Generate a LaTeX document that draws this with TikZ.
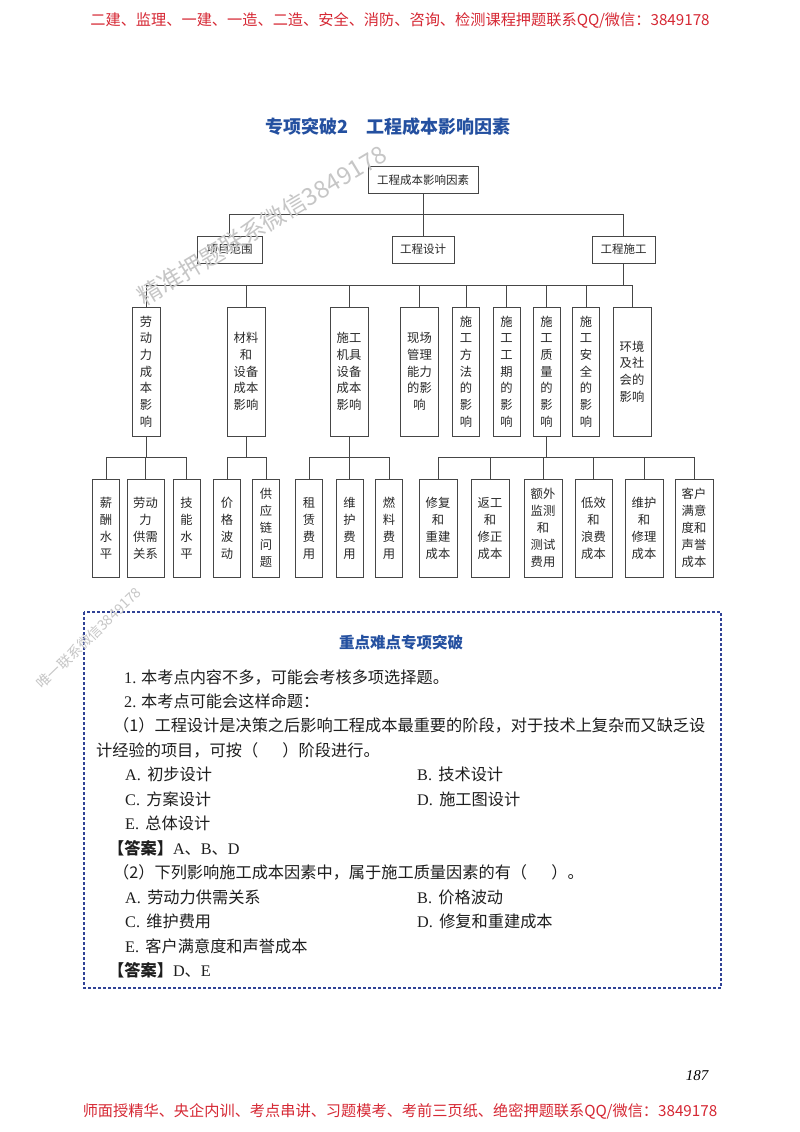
\documentclass[tikz,border=0pt]{standalone}
\usepackage{fontspec}
\setmainfont{Liberation Serif}
\newfontfamily\cjk{Noto Sans CJK SC}
\definecolor{hdred}{RGB}{214,40,52}
\definecolor{ttlblue}{RGB}{36,80,160}
\definecolor{dashblue}{RGB}{48,66,150}
\definecolor{boxline}{RGB}{70,70,70}
\definecolor{boxtext}{RGB}{40,40,40}
\definecolor{bodytext}{RGB}{30,30,30}
\tikzset{
  box/.style={draw=boxline, line width=0.9pt, inner sep=0pt, align=center, text=boxtext},
  lone/.style={box, minimum height=27pt, font=\cjk\fontsize{11.5}{14}\selectfont},
  ltwo/.style={box, minimum height=129pt, font=\cjk\fontsize{12.3}{16.7}\selectfont},
  lthree/.style={box, minimum height=98pt, font=\cjk\fontsize{12.3}{17}\selectfont},
  wa/.style={minimum width=27pt},
  wb/.style={minimum width=38pt},
  conn/.style={draw=boxline, line width=0.9pt},
  bodyline/.style={anchor=west, inner sep=0pt, text=bodytext, font=\cjk\fontsize{16.2}{18}\selectfont},
  redline/.style={inner sep=0pt, text=hdred, font=\cjk\fontsize{15.2}{18}\selectfont},
  wmark/.style={inner sep=0pt, text=gray!45}
}
\begin{document}
\begin{tikzpicture}[x=1pt,y=-1pt]
\useasboundingbox (0,0) rectangle (800,1132);
\fill[white] (0,0) rectangle (800,1132);

% header / footer
\node[redline] (hdr) at (400,20) {二建、监理、一建、一造、二造、安全、消防、咨询、检测课程押题联系QQ/微信：3849178};
\node[redline] (ftr) at (400,1111) {师面授精华、央企内训、考点串讲、习题模考、考前三页纸、绝密押题联系QQ/微信：3849178};
\node[inner sep=0pt, font=\rmfamily\itshape\fontsize{15}{18}\selectfont] (pg) at (697,1076) {187};

% title
\node[inner sep=0pt, text=ttlblue, font=\cjk\bfseries\fontsize{18}{20}\selectfont] (title) at (388,127) {专项突破2\hspace{1em}工程成本影响因素};

% level 0 and 1
\node[lone, minimum width=110pt] (root) at (423,180) {工程成本影响因素};
\node[lone, minimum width=65pt] (p1) at (229.5,249.5) {项目范围};
\node[lone, minimum width=62pt] (p2) at (423,249.5) {工程设计};
\node[lone, minimum width=63pt] (p3) at (623.5,249.5) {工程施工};

% level 2
\node[ltwo, wa, minimum width=28pt] (a1) at (146,371.5) {劳\\动\\力\\成\\本\\影\\响};
\node[ltwo, wb] (a2) at (246,371.5) {材料\\和\\设备\\成本\\影响};
\node[ltwo, wb] (a3) at (349,371.5) {施工\\机具\\设备\\成本\\影响};
\node[ltwo, wb] (a4) at (419.5,371.5) {现场\\管理\\能力\\的影\\响};
\node[ltwo, wa] (a5) at (466,371.5) {施\\工\\方\\法\\的\\影\\响};
\node[ltwo, wa] (a6) at (506.5,371.5) {施\\工\\工\\期\\的\\影\\响};
\node[ltwo, wa] (a7) at (546.5,371.5) {施\\工\\质\\量\\的\\影\\响};
\node[ltwo, wa] (a8) at (586,371.5) {施\\工\\安\\全\\的\\影\\响};
\node[ltwo, wb] (a9) at (632,371.5) {环境\\及社\\会的\\影响};

% level 3
\node[lthree, wa] (b1) at (106,528) {薪\\酬\\水\\平};
\node[lthree, wb, minimum width=37pt] (b2) at (145.5,528) {劳动\\力\\供需\\关系};
\node[lthree, wa] (b3) at (186.5,528) {技\\能\\水\\平};
\node[lthree, wa] (b4) at (227,528) {价\\格\\波\\动};
\node[lthree, wa] (b5) at (266,528) {供\\应\\链\\问\\题};
\node[lthree, wa] (b6) at (309,528) {租\\赁\\费\\用};
\node[lthree, wa] (b7) at (349.5,528) {维\\护\\费\\用};
\node[lthree, wa] (b8) at (389,528) {燃\\料\\费\\用};
\node[lthree, wb] (b9) at (438,528) {修复\\和\\重建\\成本};
\node[lthree, wb] (b10) at (490,528) {返工\\和\\修正\\成本};
\node[lthree, wb] (b11) at (543,528) {额外\\监测\\和\\测试\\费用};
\node[lthree, wb, minimum width=37pt] (b12) at (593.5,528) {低效\\和\\浪费\\成本};
\node[lthree, wb] (b13) at (644,528) {维护\\和\\修理\\成本};
\node[lthree, wb] (b14) at (694,528) {客户\\满意\\度和\\声誉\\成本};

% bus coordinates
\coordinate (busA) at (0,214.5);
\coordinate (busB) at (0,285);
\coordinate (busC) at (0,457);

% connectors level 0-1
\draw[conn] (root.south) -- (root.south |- p2.north);
\draw[conn] (p1.north) -- (p1.north |- busA) -- (p3.north |- busA) -- (p3.north);

% connectors level 1-2
\draw[conn] (p3.south) -- (p3.south |- busB);
\draw[conn] (a1.north) -- (a1.north |- busB) -- (a9.north |- busB) -- (a9.north);
\foreach \n in {a2,a3,a4,a5,a6,a7,a8}
  \draw[conn] (\n.north) -- (\n.north |- busB);

% connectors level 2-3
\draw[conn] (a1.south) -- (a1.south |- busC);
\draw[conn] (b1.north) -- (b1.north |- busC) -- (b3.north |- busC) -- (b3.north);
\draw[conn] (b2.north) -- (b2.north |- busC);
\draw[conn] (a2.south) -- (a2.south |- busC);
\draw[conn] (b4.north) -- (b4.north |- busC) -- (b5.north |- busC) -- (b5.north);
\draw[conn] (a3.south) -- (a3.south |- busC);
\draw[conn] (b6.north) -- (b6.north |- busC) -- (b8.north |- busC) -- (b8.north);
\draw[conn] (b7.north) -- (b7.north |- busC);
\draw[conn] (a7.south) -- (a7.south |- busC);
\draw[conn] (b9.north) -- (b9.north |- busC) -- (b14.north |- busC) -- (b14.north);
\foreach \n in {b10,b11,b12,b13}
  \draw[conn] (\n.north) -- (\n.north |- busC);

% dashed frame
\draw[draw=dashblue, line width=1.3pt, dash pattern=on 3pt off 2pt] (84,612) rectangle (721,988);

\node[inner sep=0pt, text=ttlblue, font=\cjk\bfseries\fontsize{15.5}{18}\selectfont] (boxtitle) at (401,643) {重点难点专项突破};

\node[bodyline] (l1) at (124,677) {{\rmfamily 1.} 本考点内容不多，可能会考核多项选择题。};
\node[bodyline] (l2) at (124,701) {{\rmfamily 2.} 本考点可能会这样命题：};
\node[bodyline] (l3) at (113,725.5) {（1）工程设计是决策之后影响工程成本最重要的阶段，对于技术上复杂而又缺乏设};
\node[bodyline] (l4) at (96,750) {计经验的项目，可按（\hspace{1.5em}）阶段进行。};
\node[bodyline] (l5a) at (125,774.5) {{\rmfamily A.}\, 初步设计};
\node[bodyline] (l5b) at (417,774.5) {{\rmfamily B.}\, 技术设计};
\node[bodyline] (l6a) at (125,799) {{\rmfamily C.}\, 方案设计};
\node[bodyline] (l6b) at (417,799) {{\rmfamily D.}\, 施工图设计};
\node[bodyline] (l7) at (125,823.5) {{\rmfamily E.}\, 总体设计};
\node[bodyline] (l8) at (108,848) {{\bfseries 【答案】}{\rmfamily A}、{\rmfamily B}、{\rmfamily D}};
\node[bodyline] (l9) at (113,872.5) {（2）下列影响施工成本因素中，属于施工质量因素的有（\hspace{1.5em}）。};
\node[bodyline] (l10a) at (125,897) {{\rmfamily A.}\, 劳动力供需关系};
\node[bodyline] (l10b) at (417,897) {{\rmfamily B.}\, 价格波动};
\node[bodyline] (l11a) at (125,921.5) {{\rmfamily C.}\, 维护费用};
\node[bodyline] (l11b) at (417,921.5) {{\rmfamily D.}\, 修复和重建成本};
\node[bodyline] (l12) at (125,946) {{\rmfamily E.}\, 客户满意度和声誉成本};
\node[bodyline] (l13) at (108,970) {{\bfseries 【答案】}{\rmfamily D}、{\rmfamily E}};

% watermarks
\node[wmark, rotate=31, font=\cjk\fontsize{24}{24}\selectfont] (wm1) at (262,225) {精准押题联系微信3849178};
\node[wmark, rotate=44, font=\cjk\fontsize{14}{14}\selectfont] (wm2) at (89,638) {唯一联系微信3849178};
\end{tikzpicture}
\end{document}
